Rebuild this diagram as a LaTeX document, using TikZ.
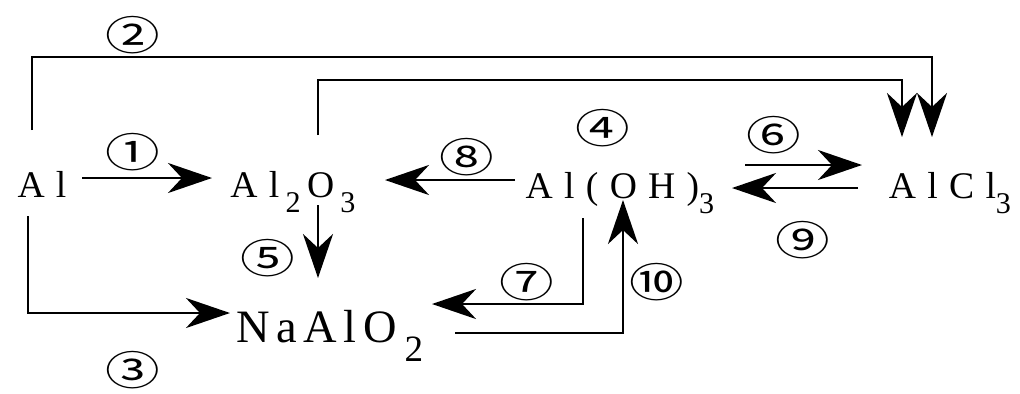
\documentclass[tikz,border=0pt]{standalone}
\usepackage{fontspec}
\usepackage{graphicx}
\usepackage{tikz}
\usetikzlibrary{arrows.meta,calc}

\setmainfont{Liberation Serif}
\newfontfamily\chemfont{Liberation Serif}[LetterSpace=30]
\newfontfamily\nafont{Liberation Serif}[LetterSpace=14]
\newfontfamily\circfont{Noto Sans CJK SC}
\newcommand\chsub[1]{\raisebox{-0.42em}{\scalebox{0.8}{#1}}}
\newcommand\cnum[1]{\scalebox{1.35}[1]{\circfont #1}}

\begin{document}
\begin{tikzpicture}[x=0.01cm,y=-0.01cm,
    rxn/.style={-{Stealth[length=4.4mm,width=3mm,inset=1.4mm]},line width=0.8pt},
    chem/.style={anchor=base,inner sep=0pt,font=\chemfont\fontsize{10.7}{12}\selectfont},
    num/.style={inner sep=0pt,font=\fontsize{11.5}{12}\selectfont}]
\useasboundingbox (0,0) rectangle (1020,393);

% substances
\node[chem] (al)   at (42,197)  {Al};
\node[chem] (alox) at (293,197) {Al\,\chsub{2}\,O\,\chsub{3}};
\node[chem] (aloh) at (620,198) {Al(OH)\chsub{3}};
\node[chem] (alcl) at (950,198) {AlCl\chsub{3}};
\node[chem,font=\nafont\fontsize{13.2}{15}\selectfont] (naal) at (330,342) {NaAlO\,\chsub{2}};

% reactions
\draw[rxn] ([shift={(40,-19)}]al.base) -- ([shift={(-81,-19)}]alox.base);
\draw[rxn] ([shift={(-10,-67)}]al.base) -- ++(0,-73) -| ([shift={(-18,-61)}]alcl.base);
\draw[rxn] ([shift={(-14,19)}]al.base) |- ([shift={(-100,-29)}]naal.base);
\draw[rxn] ([shift={(25,-62)}]alox.base) -- ++(0,-55) -| ([shift={(-48,-61)}]alcl.base);
\draw[rxn] ([shift={(25,8)}]alox.base) -- ([shift={(-12,-64)}]naal.base);
\draw[rxn] ([shift={(-105,-18)}]aloh.base) -- ([shift={(92,-17)}]alox.base);
\draw[rxn] ([shift={(125,-33)}]aloh.base) -- ([shift={(-88,-33)}]alcl.base);
\draw[rxn] ([shift={(-92,-10)}]alcl.base) -- ([shift={(112,-10)}]aloh.base);
\draw[rxn] ([shift={(-37,20)}]aloh.base) |- ([shift={(102,-38)}]naal.base);
\draw[rxn] ([shift={(125,-9)}]naal.base) -| ([shift={(3,2)}]aloh.base);

% numbers
\node[num] (n1)  at (133,152) {\cnum{①}};
\node[num] (n2)  at (133,35)  {\cnum{②}};
\node[num] (n3)  at (133,370) {\cnum{③}};
\node[num] (n4)  at (603,128) {\cnum{④}};
\node[num] (n5)  at (268,258) {\cnum{⑤}};
\node[num] (n6)  at (774,135) {\cnum{⑥}};
\node[num] (n7)  at (527,282) {\cnum{⑦}};
\node[num] (n8)  at (467,157) {\cnum{⑧}};
\node[num] (n9)  at (803,240) {\cnum{⑨}};
\node[num] (n10) at (657,282) {\cnum{⑩}};
\end{tikzpicture}
\end{document}
